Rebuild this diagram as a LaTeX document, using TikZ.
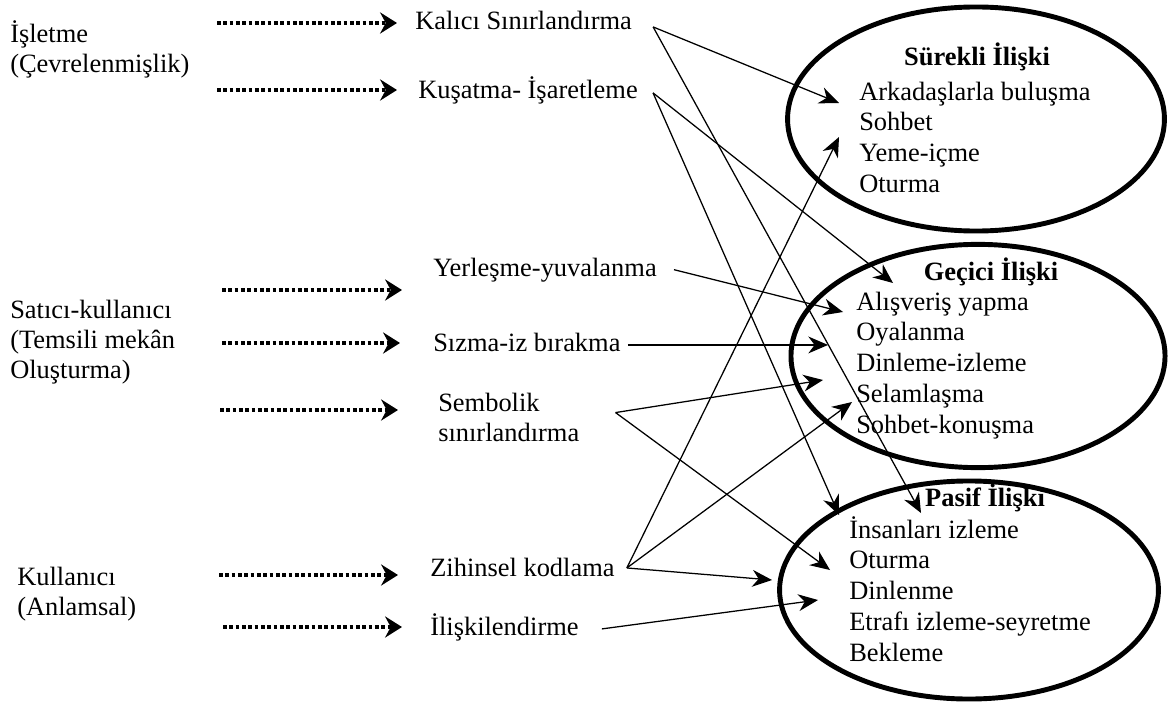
\documentclass[tikz,border=0pt]{standalone}
\usepackage{fontspec}
\setmainfont{Liberation Serif}
\usepackage{tikz}
\usetikzlibrary{arrows.meta,positioning,shapes.geometric,calc}
\tikzset{
  lbl/.style={font=\fontsize{18.8}{21.3}\selectfont, inner sep=0pt},
  grplbl/.style={lbl, align=left, anchor=north west},
  midlbl/.style={lbl, anchor=base west},
  item/.style={lbl, text height=14pt, text depth=4.5pt},
  itemhead/.style={lbl, font=\fontsize{18.8}{21.3}\selectfont\bfseries, anchor=base},
  zone/.style={ellipse, draw, line width=3.5pt, inner sep=0pt},
  arrow/.style={-{Stealth[length=14pt,width=12pt,inset=4.5pt]}, line width=0.9pt},
  dotarrow/.style={-{Stealth[length=12pt,width=15pt,inset=4pt]}, line width=2.6pt, dash pattern=on 2.6pt off 1.9pt},
}
\begin{document}
\begin{tikzpicture}[x=0.025cm, y=-0.025cm]
\useasboundingbox (0,0) rectangle (1169,703);

% relation zones
\node[zone, minimum width=9.42cm, minimum height=5.6cm] (surekli) at (976,119) {};
\node[zone, minimum width=9.35cm, minimum height=5.58cm] (gecici) at (978,356) {};
\node[zone, minimum width=9.47cm, minimum height=5.45cm] (pasif) at (969,590) {};

\node[itemhead] (stitle) at (977,66) {Sürekli İlişki};
\node[item, anchor=base west] (s1) at (859,100) {Arkadaşlarla buluşma};
\node[item, below right=3pt and 0pt of s1.south west] (s2) {Sohbet};
\node[item, below right=3pt and 0pt of s2.south west] (s3) {Yeme-içme};
\node[item, below right=3pt and 0pt of s3.south west] (s4) {Oturma};

\node[itemhead] (gtitle) at (991,280) {Geçici İlişki};
\node[item, anchor=base west] (g1) at (856,310) {Alışveriş yapma};
\node[item, below right=3pt and 0pt of g1.south west] (g2) {Oyalanma};
\node[item, below right=3pt and 0pt of g2.south west] (g3) {Dinleme-izleme};
\node[item, below right=3pt and 0pt of g3.south west] (g4) {Selamlaşma};
\node[item, below right=3pt and 0pt of g4.south west] (g5) {Sohbet-konuşma};

\node[itemhead] (ptitle) at (985,506) {Pasif İlişki};
\node[item, anchor=base west] (p1) at (849,538) {İnsanları izleme};
\node[item, below right=3pt and 0pt of p1.south west] (p2) {Oturma};
\node[item, below right=3pt and 0pt of p2.south west] (p3) {Dinlenme};
\node[item, below right=3pt and 0pt of p3.south west] (p4) {Etrafı izleme-seyretme};
\node[item, below right=3pt and 0pt of p4.south west] (p5) {Bekleme};

% actors
\node[grplbl] (isletme) at (10,20) {İşletme\\(Çevrelenmişlik)};
\node[grplbl] (satici) at (10,300) {Satıcı-kullanıcı\\(Temsili mekân\\Oluşturma)};
\node[grplbl] (kullanici) at (17,567) {Kullanıcı\\(Anlamsal)};

% tactics
\node[midlbl] (kalici) at (415,30) {Kalıcı Sınırlandırma};
\node[midlbl] (kusatma) at (418,98) {Kuşatma- İşaretleme};
\node[midlbl] (yerlesme) at (433,276) {Yerleşme-yuvalanma};
\node[midlbl] (sizma) at (433,351) {Sızma-iz bırakma};
\node[midlbl, anchor=north west, align=left] (sembolik) at (438,393) {Sembolik\\sınırlandırma};
\node[midlbl] (zihinsel) at (430,576) {Zihinsel kodlama};
\node[midlbl] (iliski) at (430,635) {İlişkilendirme};

\coordinate (d1) at (217,23);
\coordinate (d2) at (217,90);
\coordinate (d3) at (222,290);
\coordinate (d4) at (222,343);
\coordinate (d5) at (220,410);
\coordinate (d6) at (219,575);
\coordinate (d7) at (223,627);

\draw[dotarrow] (d1) -- ($(d1 -| kalici.west)+(-18,0)$);
\draw[dotarrow] (d2) -- ($(d2 -| kusatma.west)+(-21,0)$);
\draw[dotarrow] (d3) -- ($(d3 -| yerlesme.west)+(-31,0)$);
\draw[dotarrow] (d4) -- ($(d4 -| sizma.west)+(-33,0)$);
\draw[dotarrow] (d5) -- ($(d5 -| sembolik.west)+(-40,0)$);
\draw[dotarrow] (d6) -- ($(d6 -| zihinsel.west)+(-32,0)$);
\draw[dotarrow] (d7) -- ($(d7 -| iliski.west)+(-28,0)$);

% arrow targets
\coordinate (sA) at (839,103);
\coordinate (sB) at (839,137);
\coordinate (gA) at (893,283);
\coordinate (gB) at (843,312);
\coordinate (gC) at (828,345);
\coordinate (gD) at (823,380);
\coordinate (gE) at (852,402);
\coordinate (pA) at (839,515);
\coordinate (pB) at (921,513);
\coordinate (pC) at (830,570);
\coordinate (pD) at (772,580);
\coordinate (pE) at (818,600);

\coordinate (kalici-out) at ($(kalici.east)+(21,6)$);
\coordinate (kusatma-out) at ($(kusatma.east)+(15,3)$);
\coordinate (yerlesme-out) at ($(yerlesme.east)+(17,0)$);
\coordinate (sizma-out) at ($(sizma.east)+(7,3)$);
\coordinate (sembolik-out) at ($(sembolik.east)+(36,-5)$);
\coordinate (zihinsel-out) at ($(zihinsel.east)+(12,1)$);
\coordinate (iliski-out) at ($(iliski.east)+(23,2)$);

\draw[arrow] (kalici-out) -- (sA);
\draw[arrow] (kalici-out) -- (pB);
\draw[arrow] (kusatma-out) -- (gA);
\draw[arrow] (kusatma-out) -- (pA);
\draw[arrow] (yerlesme-out) -- (gB);
\draw[arrow] (sizma-out) -- (sizma-out -| gC);
\draw[arrow] (sembolik-out) -- (gD);
\draw[arrow] (sembolik-out) -- (pC);
\draw[arrow] (zihinsel-out) -- (sB);
\draw[arrow] (zihinsel-out) -- (gE);
\draw[arrow] (zihinsel-out) -- (pD);
\draw[arrow] (iliski-out) -- (pE);
\end{tikzpicture}
\end{document}
